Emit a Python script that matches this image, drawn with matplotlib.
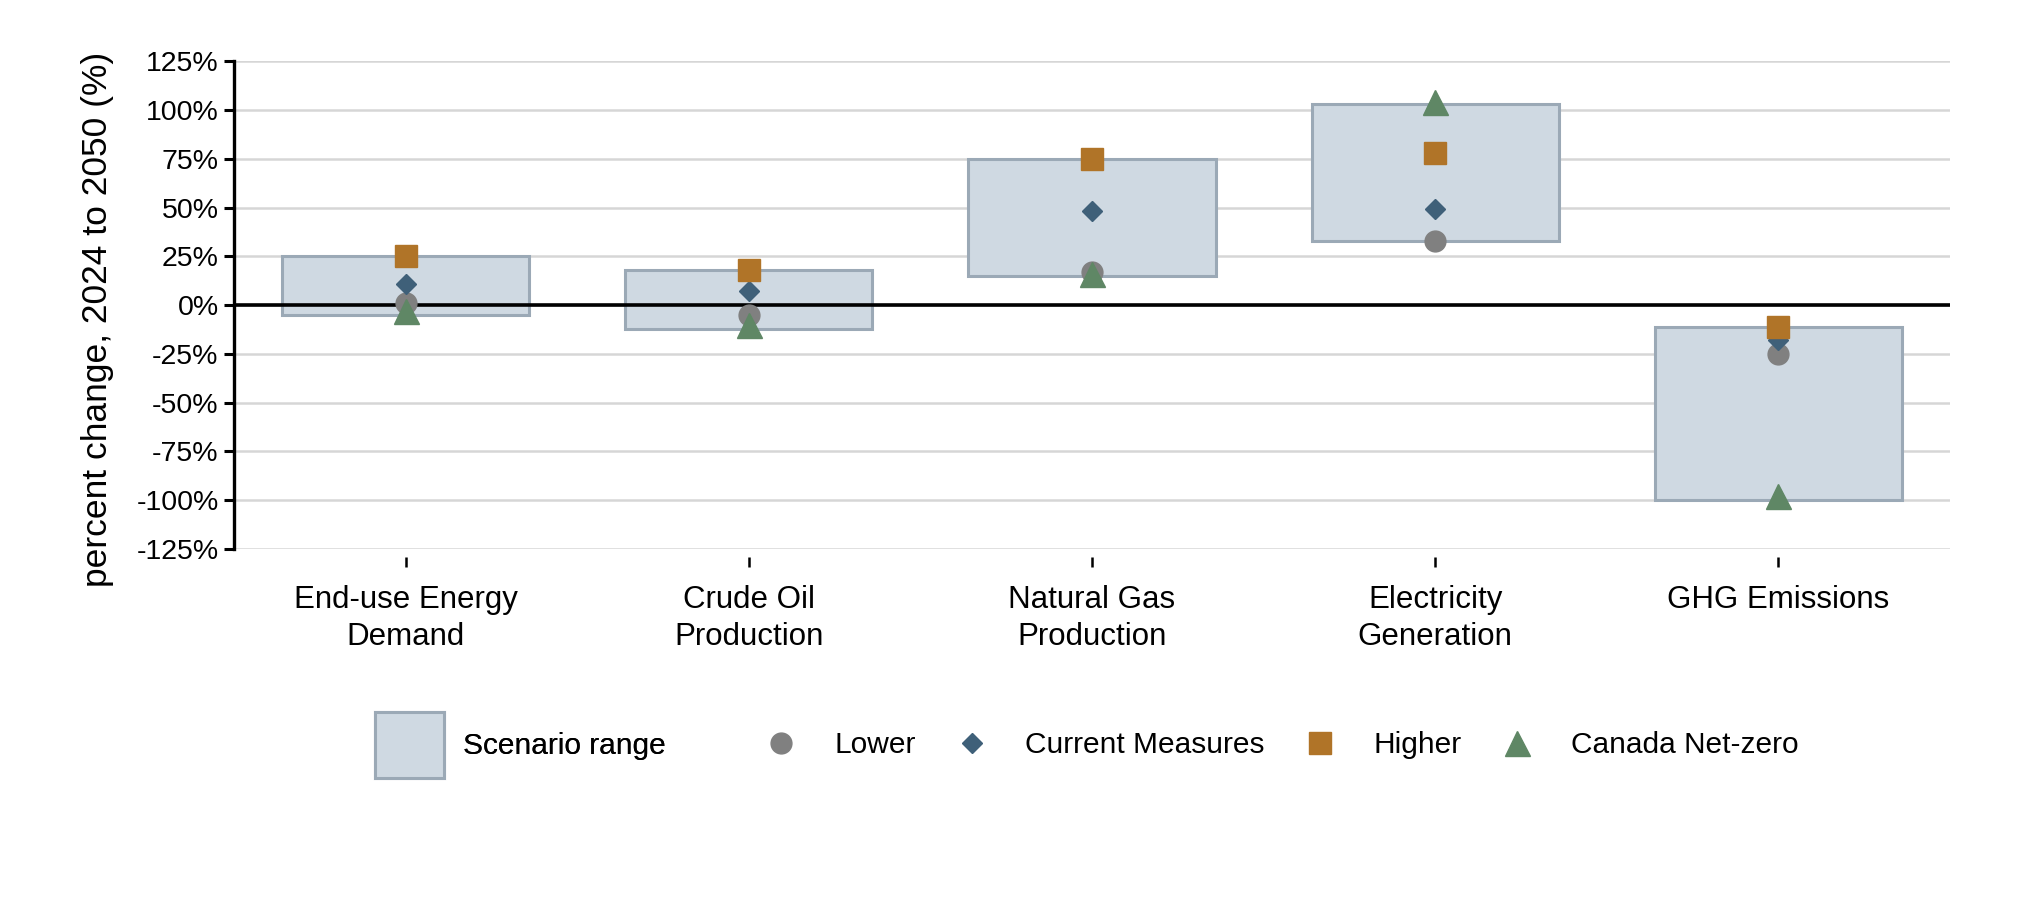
import matplotlib.pyplot as plt
from matplotlib.patches import Patch
from matplotlib.lines import Line2D
import numpy as np

plt.rcParams['font.family'] = ['Liberation Sans', 'DejaVu Sans']

categories = ["End-use Energy\nDemand", "Crude Oil\nProduction", "Natural Gas\nProduction",
              "Electricity\nGeneration", "GHG Emissions"]
range_low = [-5, -12, 15, 33, -100]
range_high = [25, 18, 75, 103, -11]
lower = [1, -5, 17, 33, -25]
current = [11, 7, 48, 49, -18]
higher = [25, 18, 75, 78, -11]
netzero = [-3, -10, 16, 104, -98]
yticks = [125, 100, 75, 50, 25, 0, -25, -50, -75, -100, -125]

box_fill = "#cfd9e2"
box_edge = "#9ba9b6"
c_lower = "#808080"
c_current = "#3f6079"
c_higher = "#b07428"
c_netzero = "#5f8765"

fig = plt.figure(figsize=(20.25, 9), dpi=100)
ax = fig.add_axes([0.1155, 0.39, 0.8475, 0.542])

x = np.arange(len(categories))
ax.bar(x, np.array(range_high) - np.array(range_low), bottom=range_low, width=0.72,
       color=box_fill, edgecolor=box_edge, linewidth=2.2, zorder=2)
ax.axhline(0, color="black", linewidth=2.6, zorder=3)

ax.plot(x, lower, "o", ms=15, color=c_lower, ls="none", zorder=4)
ax.plot(x, current, "D", ms=10.5, color=c_current, ls="none", zorder=4)
ax.plot(x, higher, "s", ms=15.5, color=c_higher, ls="none", zorder=4)
ax.plot(x, netzero, "^", ms=18, color=c_netzero, ls="none", zorder=4)

for s in ["top", "right", "bottom"]:
    ax.spines[s].set_visible(False)
ax.spines["bottom"].set_position(("outward", 6))
ax.spines["left"].set_linewidth(2.4)

ax.set_xlim(-0.5, 4.5)
ax.set_ylim(-125, 125)
ax.set_yticks(yticks)
ax.set_yticklabels([f"{v}%" for v in yticks])
ax.grid(axis="y", color="#d6d6d6", linewidth=1.8, zorder=0)
ax.set_axisbelow(True)

ax.set_xticks(x)
ax.set_xticklabels(categories, linespacing=1.3)

ax.tick_params(axis="y", labelsize=20.5, length=7, width=2.2, pad=4)
ax.tick_params(axis="x", labelsize=22.5, length=7, width=1.8, pad=13)

ax.set_ylabel("percent change, 2024 to 2050 (%)", fontsize=25.5)
ax.yaxis.set_label_coords(-0.07, 0.47)

leg1 = fig.legend(handles=[Patch(facecolor=box_fill, edgecolor=box_edge, linewidth=2.2)],
                  labels=["Scenario range"], loc="center", bbox_to_anchor=(0.257, 0.172),
                  frameon=False, fontsize=21.5, handlelength=2.3, handleheight=3.0,
                  handletextpad=0.65)
fig.add_artist(leg1)

mk = [Line2D([], [], marker="o", ms=15, color=c_lower, ls="none"),
      Line2D([], [], marker="D", ms=10.5, color=c_current, ls="none"),
      Line2D([], [], marker="s", ms=15.5, color=c_higher, ls="none"),
      Line2D([], [], marker="^", ms=18, color=c_netzero, ls="none")]
fig.legend(handles=mk, labels=["Lower", "Current Measures", "Higher", "Canada Net-zero"],
           loc="center", bbox_to_anchor=(0.6285, 0.172), ncol=4, frameon=False,
           fontsize=21.5, handlelength=2.3, handletextpad=0.65, columnspacing=0.7)

fig.savefig("out.png", dpi=100)
